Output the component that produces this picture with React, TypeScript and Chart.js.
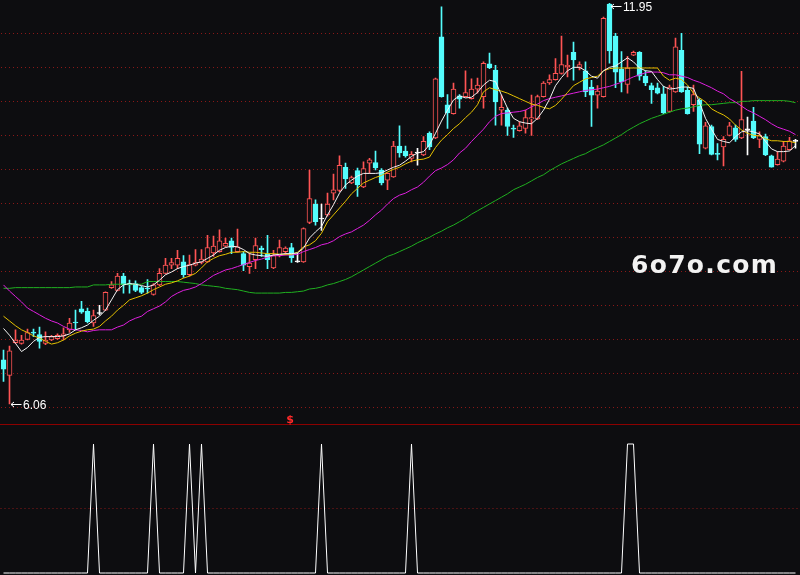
import React, { useEffect, useRef } from "react";
import { Chart, registerables } from "chart.js";

Chart.register(...registerables);

// ---- data (price candles, one per trading day) ----
const open = [
  6.71, 6.48, 6.96, 6.95, 7.01, 7.11, 7.08, 6.95, 7.0, 7.02,
  7.06, 7.15, 7.26, 7.46, 7.42, 7.25, 7.39, 7.44, 7.77, 7.73,
  7.94, 7.83, 7.83, 7.77, 7.76, 7.67, 7.81, 7.98, 8.1, 8.1,
  8.15, 7.96, 8.1, 8.14, 8.15, 8.28, 8.3, 8.38, 8.46, 8.3,
  8.27, 8.08, 8.18, 8.35, 8.26, 8.06, 8.24, 8.3, 8.36, 8.15,
  8.15, 8.73, 9.0, 8.78, 8.84, 9.16, 9.2, 9.54, 9.31, 9.49,
  9.25, 9.6, 9.61, 9.5, 9.35, 9.4, 9.85, 9.78, 9.67, 9.75,
  9.72, 10.04, 9.97, 11.46, 10.46, 10.33, 10.59, 10.58, 10.55, 10.69,
  10.58, 11.06, 10.97, 10.38, 10.38, 10.11, 10.08, 10.11, 10.25, 10.25,
  10.58, 10.78, 10.83, 10.92, 11.02, 11.23, 11.01, 10.96, 10.72, 10.6,
  10.58, 11.94, 11.47, 10.98, 10.76, 11.19, 11.23, 10.88, 10.74, 10.71,
  10.62, 10.36, 10.65, 11.26, 10.67, 10.46, 10.53, 9.82, 10.14, 9.74,
  9.84, 10.01, 10.12, 9.97, 10.09, 10.22, 9.95, 9.99, 9.71, 9.58,
  9.63, 9.8, 9.92,
];
const high = [
  6.85, 6.91, 7.15, 7.07, 7.16, 7.16, 7.19, 7.12, 7.07, 7.09,
  7.18, 7.32, 7.44, 7.57, 7.47, 7.44, 7.51, 7.71, 7.86, 7.98,
  7.98, 7.88, 7.87, 7.79, 7.89, 7.83, 8.05, 8.2, 8.2, 8.32,
  8.24, 8.25, 8.33, 8.33, 8.54, 8.53, 8.62, 8.5, 8.5, 8.63,
  8.3, 8.28, 8.5, 8.38, 8.54, 8.32, 8.47, 8.37, 8.42, 8.28,
  8.65, 9.5, 9.06, 9.0, 9.16, 9.44, 9.71, 9.6, 9.41, 9.53,
  9.62, 9.67, 9.78, 9.52, 9.46, 9.92, 10.15, 9.85, 9.77, 9.82,
  9.99, 10.06, 10.85, 11.9, 10.61, 10.78, 10.61, 10.96, 10.84, 10.85,
  11.09, 11.22, 11.04, 10.6, 10.41, 10.16, 10.21, 10.38, 10.6, 10.6,
  10.8, 10.9, 11.14, 11.47, 11.19, 11.38, 11.09, 11.09, 10.82, 10.74,
  11.75, 11.95, 11.51, 11.24, 11.17, 11.25, 11.24, 10.96, 10.78, 10.78,
  10.73, 10.75, 11.44, 11.51, 10.72, 10.75, 10.55, 10.2, 10.16, 9.89,
  9.99, 10.2, 10.16, 10.95, 10.28, 10.42, 10.06, 10.03, 9.72, 9.77,
  9.92, 9.98, 9.95,
];
const low = [
  6.39, 6.06, 6.95, 6.94, 7.0, 7.05, 6.88, 6.93, 6.99, 7.01,
  7.0, 7.11, 7.15, 7.39, 7.25, 7.2, 7.37, 7.43, 7.76, 7.72,
  7.69, 7.69, 7.71, 7.68, 7.69, 7.66, 7.8, 7.97, 8.05, 8.05,
  7.92, 7.94, 8.09, 8.12, 8.14, 8.23, 8.29, 8.37, 8.27, 8.29,
  8.02, 7.98, 8.05, 8.23, 8.05, 8.05, 8.22, 8.25, 8.14, 8.14,
  8.14, 8.71, 8.69, 8.61, 8.82, 9.06, 9.18, 9.23, 9.3, 9.11,
  9.24, 9.45, 9.5, 9.28, 9.21, 9.39, 9.69, 9.69, 9.62, 9.57,
  9.71, 9.8, 9.96, 10.57, 10.11, 10.32, 10.41, 10.57, 10.54, 10.63,
  10.41, 10.99, 10.16, 10.16, 10.01, 9.98, 10.07, 10.04, 10.01, 10.24,
  10.57, 10.76, 10.82, 10.91, 10.87, 10.82, 10.97, 10.58, 10.14, 10.41,
  10.57, 11.07, 10.71, 10.65, 10.63, 11.18, 10.82, 10.74, 10.48, 10.62,
  10.33, 10.35, 10.64, 10.64, 10.32, 10.36, 9.74, 9.81, 9.72, 9.65,
  9.56, 10.0, 9.92, 9.96, 9.72, 9.96, 9.83, 9.71, 9.54, 9.57,
  9.62, 9.79, 9.82,
];
const close = [
  6.57, 6.84, 7.0, 7.0, 7.11, 7.1, 6.98, 7.0, 7.05, 7.07,
  7.09, 7.25, 7.25, 7.41, 7.27, 7.36, 7.39, 7.7, 7.81, 7.94,
  7.81, 7.81, 7.73, 7.7, 7.75, 7.81, 7.98, 8.1, 8.14, 8.2,
  7.96, 8.11, 8.14, 8.19, 8.36, 8.38, 8.46, 8.42, 8.36, 8.37,
  8.1, 8.13, 8.39, 8.33, 8.18, 8.24, 8.36, 8.35, 8.21, 8.15,
  8.64, 9.08, 8.74, 8.78, 9.0, 9.21, 9.57, 9.37, 9.39, 9.28,
  9.52, 9.65, 9.53, 9.31, 9.45, 9.85, 9.75, 9.71, 9.73, 9.75,
  9.92, 9.84, 10.84, 10.58, 10.34, 10.69, 10.54, 10.64, 10.69, 10.75,
  11.07, 11.0, 10.5, 10.42, 10.14, 10.1, 10.15, 10.27, 10.27, 10.58,
  10.78, 10.83, 10.92, 11.05, 11.04, 11.12, 11.05, 10.65, 10.6, 10.66,
  11.73, 11.25, 10.94, 10.8, 11.0, 11.23, 10.88, 10.78, 10.68, 10.63,
  10.34, 10.72, 11.31, 10.65, 10.33, 10.61, 9.88, 10.15, 9.73, 9.73,
  9.95, 10.15, 9.95, 10.24, 10.09, 9.97, 10.01, 9.72, 9.54, 9.66,
  9.85, 9.93, 9.92,
];

// ---- moving averages ----
const ma5 = [
  7.17, 7.07, 6.95, 6.83, 6.89, 6.98, 7.04, 7.05, 7.05, 7.05,
  7.06, 7.09, 7.15, 7.18, 7.22, 7.29, 7.35, 7.44, 7.59, 7.74,
  7.81, 7.83, 7.82, 7.8, 7.78, 7.81, 7.88, 7.96, 8.0, 8.05,
  8.08, 8.1, 8.13, 8.15, 8.2, 8.25, 8.32, 8.36, 8.38, 8.37,
  8.33, 8.27, 8.25, 8.24, 8.23, 8.25, 8.26, 8.27, 8.27, 8.28,
  8.35, 8.5, 8.59, 8.67, 8.84, 8.99, 9.16, 9.28, 9.35, 9.41,
  9.45, 9.45, 9.45, 9.46, 9.5, 9.54, 9.57, 9.63, 9.7, 9.75,
  9.77, 9.87, 10.04, 10.22, 10.38, 10.53, 10.59, 10.56, 10.57, 10.64,
  10.75, 10.82, 10.8, 10.6, 10.41, 10.26, 10.21, 10.19, 10.18, 10.26,
  10.38, 10.54, 10.74, 10.86, 10.96, 11.01, 11.01, 10.96, 10.88, 10.85,
  10.96, 11.01, 11.03, 11.09, 11.15, 11.09, 11.0, 10.96, 10.95, 10.83,
  10.73, 10.69, 10.7, 10.72, 10.72, 10.7, 10.49, 10.26, 10.1, 9.95,
  9.92, 9.9, 9.99, 10.06, 10.08, 10.06, 10.03, 9.92, 9.81, 9.77,
  9.77, 9.78, 9.86,
];
const ma10 = [
  7.35, 7.28, 7.21, 7.15, 7.11, 7.06, 7.03, 6.98, 6.94, 6.96,
  7.0, 7.06, 7.1, 7.13, 7.15, 7.16, 7.2, 7.28, 7.35, 7.44,
  7.51, 7.59, 7.62, 7.65, 7.69, 7.74, 7.78, 7.82, 7.84, 7.87,
  7.91, 7.94, 7.98, 8.06, 8.15, 8.2, 8.24, 8.26, 8.29, 8.29,
  8.3, 8.29, 8.29, 8.28, 8.27, 8.27, 8.26, 8.26, 8.26, 8.29,
  8.37, 8.4, 8.46, 8.57, 8.74, 8.84, 8.94, 9.04, 9.15, 9.23,
  9.31, 9.35, 9.39, 9.42, 9.47, 9.51, 9.54, 9.59, 9.63, 9.65,
  9.66, 9.69, 9.83, 9.94, 10.02, 10.11, 10.18, 10.27, 10.35, 10.46,
  10.65, 10.71, 10.68, 10.66, 10.63, 10.59, 10.55, 10.51, 10.47, 10.45,
  10.42, 10.4, 10.45, 10.54, 10.64, 10.74, 10.79, 10.84, 10.86, 10.88,
  10.96, 10.99, 11.0, 11.0, 11.0, 11.0, 11.0, 11.0, 11.0, 11.0,
  10.88, 10.82, 10.85, 10.83, 10.75, 10.63, 10.56, 10.5, 10.4, 10.35,
  10.31, 10.25, 10.16, 10.09, 10.04, 10.01, 10.0, 9.96, 9.93, 9.93,
  9.92, 9.92, 9.9,
];
const ma20 = [
  7.81, 7.72, 7.64, 7.56, 7.47, 7.42, 7.37, 7.32, 7.28, 7.25,
  7.2, 7.16, 7.15, 7.14, 7.12, 7.14, 7.15, 7.15, 7.15, 7.19,
  7.22, 7.28, 7.32, 7.35, 7.42, 7.46, 7.5, 7.56, 7.64, 7.69,
  7.73, 7.75, 7.78, 7.83, 7.89, 7.95, 7.99, 8.03, 8.05, 8.08,
  8.11, 8.14, 8.17, 8.19, 8.22, 8.24, 8.24, 8.25, 8.25, 8.26,
  8.3, 8.33, 8.36, 8.4, 8.42, 8.46, 8.52, 8.56, 8.59, 8.64,
  8.69, 8.76, 8.84, 8.91, 9.0, 9.08, 9.13, 9.16, 9.21, 9.25,
  9.32, 9.41, 9.49, 9.53, 9.58, 9.65, 9.75, 9.82, 9.92, 10.01,
  10.1, 10.21, 10.29, 10.33, 10.34, 10.35, 10.36, 10.38, 10.43, 10.47,
  10.52, 10.55, 10.57, 10.59, 10.61, 10.63, 10.65, 10.67, 10.68, 10.69,
  10.71, 10.73, 10.76, 10.79, 10.83, 10.87, 10.9, 10.93, 10.94, 10.94,
  10.93, 10.9, 10.9, 10.88, 10.86, 10.82, 10.79, 10.75, 10.71, 10.66,
  10.62, 10.55, 10.5, 10.44, 10.38, 10.34, 10.29, 10.24, 10.18, 10.13,
  10.1, 10.07, 10.02,
];
const ma60 = [
  7.76, 7.76, 7.77, 7.77, 7.77, 7.77, 7.77, 7.77, 7.77, 7.77,
  7.77, 7.77, 7.78, 7.78, 7.78, 7.81, 7.81, 7.81, 7.82, 7.82,
  7.82, 7.82, 7.82, 7.82, 7.86, 7.86, 7.86, 7.86, 7.86, 7.86,
  7.85, 7.84, 7.83, 7.81, 7.8, 7.79, 7.78, 7.76, 7.75, 7.74,
  7.72, 7.7, 7.69, 7.69, 7.69, 7.69, 7.69, 7.7, 7.7, 7.71,
  7.72, 7.75, 7.76, 7.78, 7.81, 7.83, 7.86, 7.89, 7.93, 7.98,
  8.03, 8.08, 8.13, 8.18, 8.23, 8.26, 8.3, 8.34, 8.38, 8.43,
  8.47, 8.51, 8.56, 8.6, 8.65, 8.69, 8.74, 8.79, 8.85, 8.9,
  8.95, 9.0, 9.05, 9.1, 9.15, 9.21, 9.25, 9.29, 9.34, 9.39,
  9.43, 9.49, 9.54, 9.59, 9.63, 9.67, 9.71, 9.74, 9.79, 9.83,
  9.87, 9.92, 9.97, 10.02, 10.08, 10.13, 10.18, 10.22, 10.26, 10.29,
  10.32, 10.35, 10.38, 10.4, 10.41, 10.43, 10.45, 10.46, 10.46, 10.47,
  10.48, 10.49, 10.49, 10.51, 10.51, 10.52, 10.52, 10.52, 10.52, 10.52,
  10.52, 10.51, 10.49,
];

// ---- lower indicator (0 / 1 signal) ----
const signal = [
  0, 0, 0, 0, 0, 0, 0, 0, 0, 0,
  0, 0, 0, 0, 0, 1, 0, 0, 0, 0,
  0, 0, 0, 0, 0, 1, 0, 0, 0, 0,
  0, 1, 0, 1, 0, 0, 0, 0, 0, 0,
  0, 0, 0, 0, 0, 0, 0, 0, 0, 0,
  0, 0, 0, 1, 0, 0, 0, 0, 0, 0,
  0, 0, 0, 0, 0, 0, 0, 0, 1, 0,
  0, 0, 0, 0, 0, 0, 0, 0, 0, 0,
  0, 0, 0, 0, 0, 0, 0, 0, 0, 0,
  0, 0, 0, 0, 0, 0, 0, 0, 0, 0,
  0, 0, 0, 0, 1, 1, 0, 0, 0, 0,
  0, 0, 0, 0, 0, 0, 0, 0, 0, 0,
  0, 0, 0, 0, 0, 0, 0, 0, 0, 0,
  0, 0, 0,
];

const days = open.map((_, i) => `D${i + 1}`);
const priceGrid = [6, 6.5, 7, 7.5, 8, 8.5, 9, 9.5, 10, 10.5, 11, 11.5];
const signalGrid = [0.5];
const watermark = "6o7o.com";
const markerIndex = 48;

// ---- styling ----
const BG = "#0d0d10";
const UP = "#ff5454";
const DOWN = "#54fcfc";
const FLAT = "#ffffff";
const GRID = "#8a1818";
const SEPARATOR_VALUE = 1.155; // on the indicator scale

function candleColor(i: number) {
  const o = open[i];
  const c = close[i];
  return c > o ? UP : c < o ? DOWN : FLAT;
}
function bodyFill(i: number) {
  const o = open[i];
  const c = close[i];
  return c > o ? BG : c < o ? DOWN : FLAT;
}

const overlayPlugin = {
  id: "overlay",
  afterDraw(chart: any) {
    const { ctx, scales } = chart;
    const xs = scales.x;
    const ys = scales.y;
    const y2 = scales.y2;
    ctx.save();

    // panel separator
    const sepY = Math.round(y2.getPixelForValue(SEPARATOR_VALUE)) + 0.5;
    ctx.strokeStyle = "#8c0000";
    ctx.lineWidth = 1;
    ctx.beginPath();
    ctx.moveTo(0, sepY);
    ctx.lineTo(chart.width, sepY);
    ctx.stroke();

    // red $ marker
    ctx.fillStyle = "#ff2a2a";
    ctx.font = 'bold 11px "DejaVu Sans"';
    ctx.textAlign = "center";
    ctx.textBaseline = "alphabetic";
    ctx.fillText("$", xs.getPixelForValue(markerIndex) - 1.5, sepY - 2);

    // high / low labels
    const maxH = Math.max(...high);
    const minL = Math.min(...low);
    const hi = high.indexOf(maxH);
    const lo = low.indexOf(minL);
    const drawLabel = (idx: number, value: number, dy: number) => {
      const px = xs.getPixelForValue(idx);
      const py = ys.getPixelForValue(value);
      const ay = Math.round(py + dy) + 0.5;
      ctx.strokeStyle = "#ffffff";
      ctx.lineWidth = 1;
      ctx.beginPath();
      ctx.moveTo(px + 1.5, ay);
      ctx.lineTo(px + 12, ay);
      ctx.moveTo(px + 1.5, ay);
      ctx.lineTo(px + 4.5, ay - 2.5);
      ctx.moveTo(px + 1.5, ay);
      ctx.lineTo(px + 4.5, ay + 2.5);
      ctx.stroke();
      ctx.fillStyle = "#ffffff";
      ctx.font = '12px "Liberation Sans"';
      ctx.textAlign = "left";
      ctx.textBaseline = "middle";
      ctx.fillText(value.toFixed(2), px + 13.5, ay + 1.5);
    };
    drawLabel(hi, maxH, 2.5);
    drawLabel(lo, minL, 0.5);

    // watermark
    ctx.fillStyle = "#f2f2f2";
    ctx.font = 'bold 25px "DejaVu Sans"';
    (ctx as any).letterSpacing = "1.3px";
    ctx.textAlign = "left";
    ctx.textBaseline = "alphabetic";
    ctx.fillText(watermark, 631, 273);
    ctx.restore();
  },
};

export default function App() {
  const ref = useRef<HTMLCanvasElement>(null);

  useEffect(() => {
    document.body.style.margin = "0";
    document.body.style.background = BG;
    const canvas = ref.current;
    if (!canvas) return;

    const lineDs = (label: string, data: number[], color: string) => ({
      type: "line",
      label,
      data,
      yAxisID: "y",
      borderColor: color,
      borderWidth: 1,
      pointRadius: 0,
      tension: 0,
      fill: false,
      order: 0,
    });

    const chart = new Chart(canvas, {
      type: "bar",
      data: {
        labels: days,
        datasets: [
          lineDs("MA5", ma5, "#f4f4f4"),
          lineDs("MA10", ma10, "#e6c200"),
          lineDs("MA20", ma20, "#e020e0"),
          lineDs("MA60", ma60, "#20b020"),
          {
            type: "line",
            label: "signal",
            data: signal,
            yAxisID: "y2",
            borderColor: "#ffffff",
            borderWidth: 1,
            pointRadius: 0,
            tension: 0,
            fill: false,
            order: 0,
          },
          {
            type: "bar",
            label: "body",
            data: open.map((o, i) => [o, close[i]]),
            yAxisID: "y",
            backgroundColor: (c: any) => bodyFill(c.dataIndex),
            borderColor: (c: any) => candleColor(c.dataIndex),
            borderWidth: 1,
            borderSkipped: false,
            barThickness: 5,
            minBarLength: 1,
            grouped: false,
            order: 1,
          },
          {
            type: "bar",
            label: "wick",
            data: low.map((l, i) => [l, high[i]]),
            yAxisID: "y",
            backgroundColor: (c: any) => candleColor(c.dataIndex),
            borderWidth: 0,
            barThickness: 1,
            grouped: false,
            order: 2,
          },
        ] as any,
      },
      options: {
        responsive: false,
        animation: false,
        events: [],
        layout: { padding: { left: 0.5, right: 1.5, top: 0, bottom: 0 } },
        plugins: {
          legend: { display: false },
          tooltip: { enabled: false },
        },
        scales: {
          x: {
            type: "category",
            display: false,
            offset: true,
            grid: { display: false },
          },
          y: {
            type: "linear",
            position: "left",
            min: 3.5441,
            max: 12,
            display: true,
            ticks: { display: false },
            grid: { color: GRID, lineWidth: 1, drawTicks: false },
            border: { display: false, dash: [1, 3] },
            afterFit: (s: any) => {
              s.width = 0;
            },
            afterBuildTicks: (s: any) => {
              s.ticks = priceGrid.map((v) => ({ value: v }));
            },
          },
          y2: {
            type: "linear",
            position: "right",
            min: -0.0155,
            max: 4.4419,
            display: true,
            ticks: { display: false },
            grid: { color: GRID, lineWidth: 1, drawTicks: false },
            border: { display: false, dash: [1, 3] },
            afterFit: (s: any) => {
              s.width = 0;
            },
            afterBuildTicks: (s: any) => {
              s.ticks = signalGrid.map((v) => ({ value: v }));
            },
          },
        },
      } as any,
      plugins: [overlayPlugin],
    });

    return () => chart.destroy();
  }, []);

  return (
    <div
      style={{
        position: "fixed",
        left: 0,
        top: 0,
        width: 800,
        height: 575,
        background: BG,
        overflow: "hidden",
      }}
    >
      <canvas ref={ref} width={800} height={575} style={{ display: "block" }} />
    </div>
  );
}
